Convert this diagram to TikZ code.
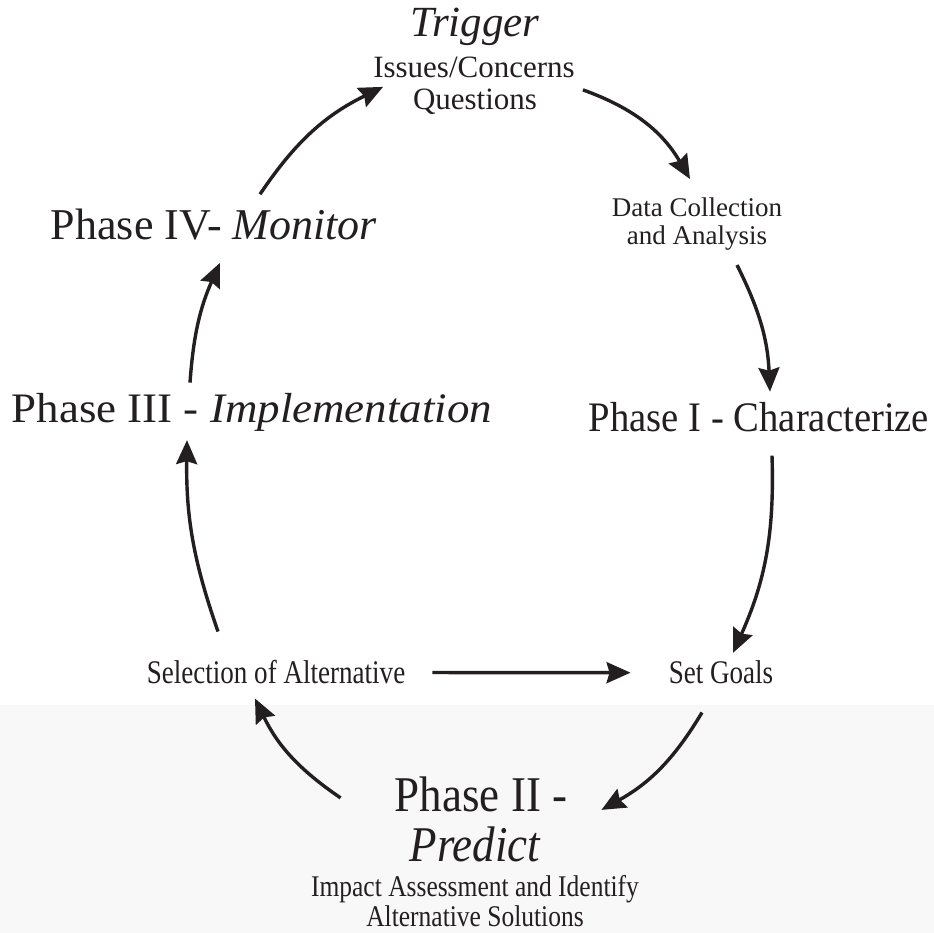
\documentclass[tikz,border=0pt]{standalone}
\usepackage{fontspec}
\setmainfont{Liberation Serif}
\usepackage{graphicx}
\usetikzlibrary{arrows.meta}
\definecolor{ink}{RGB}{35,31,32}
\definecolor{lowband}{RGB}{248,248,248}

\begin{document}
\begin{tikzpicture}[x=1pt,y=1pt,
  lbl/.style={inner sep=0pt, anchor=base, text=ink},
  cyc/.style={draw=ink, line width=3.4pt, -{Stealth[length=24pt,width=21pt,inset=3pt]}}]
\fill[white] (0,0) rectangle (934,933);
\fill[lowband] (0,0) rectangle (934,228);
\useasboundingbox (0,0) rectangle (934,933);

\node[lbl, font=\fontsize{43}{43}\selectfont\itshape] (trig) at (475,896) {Trigger};
\node[lbl, font=\fontsize{31}{31}\selectfont] (iss) at (474,855) {Issues/Concerns};
\node[lbl, font=\fontsize{31}{31}\selectfont] (que) at (475,823) {Questions};
\node[lbl, font=\fontsize{27}{27}\selectfont] (data) at (697,716) {Data Collection};
\node[lbl, font=\fontsize{27}{27}\selectfont] (ana) at (697,688) {and Analysis};
\node[lbl, font=\fontsize{42}{42}\selectfont] (ph1) at (759,501) {\scalebox{0.92}[1]{Phase I - Characterize}};
\node[lbl, font=\fontsize{44}{44}\selectfont] (ph4) at (214,693) {Phase IV- \textit{Monitor}};
\node[lbl, font=\fontsize{42}{42}\selectfont] (ph3) at (252,510) {\scalebox{1.07}[1]{Phase III - \textit{Implementation}}};
\node[lbl, font=\fontsize{33}{33}\selectfont] (sel) at (276,249) {\scalebox{0.82}[1]{Selection of Alternative}};
\node[lbl, font=\fontsize{33}{33}\selectfont] (goal) at (721,249) {\scalebox{0.82}[1]{Set Goals}};
\node[lbl, font=\fontsize{50}{50}\selectfont] (ph2) at (481,121) {\scalebox{0.9}[1]{Phase II -}};
\node[lbl, font=\fontsize{50}{50}\selectfont\itshape] (pred) at (475,71) {\scalebox{0.9}[1]{Predict}};
\node[lbl, font=\fontsize{30}{30}\selectfont] (imp) at (475,36) {\scalebox{0.85}[1]{Impact Assessment and Identify}};
\node[lbl, font=\fontsize{30}{30}\selectfont] (alt) at (475,6) {\scalebox{0.85}[1]{Alternative Solutions}};

\draw[cyc] ([shift={(46,15)}]ph4.north) to[bend left=15] ([shift={(10,-19)}]iss.west);
\draw[cyc] ([shift={(8,-22)}]iss.east) to[bend left=20] ([shift={(-7,19)}]data.north);
\draw[cyc] ([shift={(40,-14)}]ana.south) to[bend left=12] ([shift={(11,11)}]ph1.north);
\draw[cyc] ([shift={(13,-23)}]ph1.south) to[bend left=13] ([shift={(12,8)}]goal.north);
\draw[cyc] ([xshift=27]sel.east) -- ([xshift=-38]goal.west);
\draw[cyc] ([shift={(-19,-28)}]goal.south) to[bend left=15] ([shift={(34,-15)}]ph2.east);
\draw[cyc] ([shift={(-54,-3)}]ph2.west) to[bend left=15] ([shift={(-21,-14)}]sel.south);
\draw[cyc] ([shift={(-58,29)}]sel.north) to[bend left=10] ([shift={(-65,-8)}]ph3.south);
\draw[cyc] ([shift={(-62,11)}]ph3.north) to[bend left=10] ([shift={(6,-22)}]ph4.south);
\end{tikzpicture}
\end{document}
